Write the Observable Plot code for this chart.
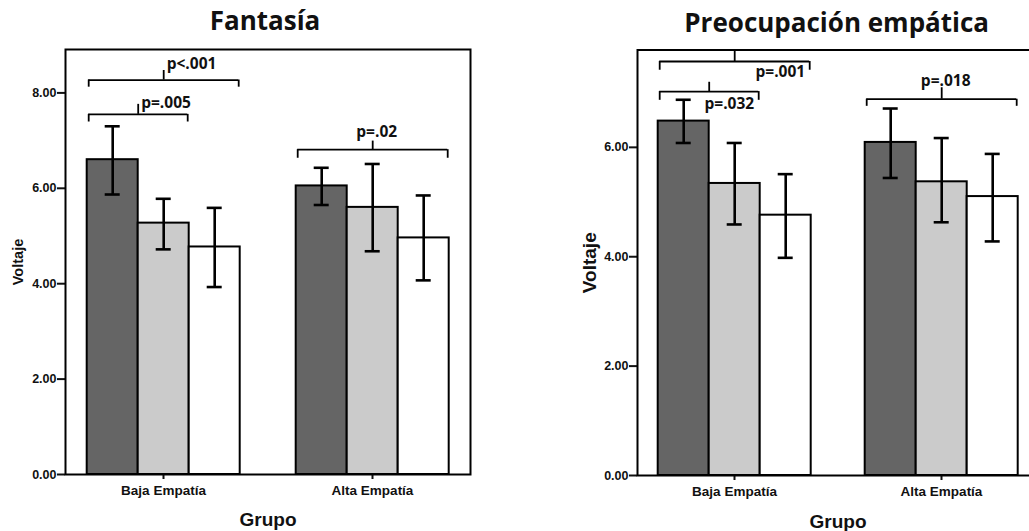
<!DOCTYPE html>
<html>
<head>
<meta charset="utf-8">
<script src="https://cdn.jsdelivr.net/npm/d3@7"></script>
<script src="https://cdn.jsdelivr.net/npm/@observablehq/plot@0.6"></script>
<style>
html, body { margin: 0; padding: 0; background: #fff; overflow: hidden; }
#root { position: relative; width: 1029px; height: 531px; overflow: hidden; background: #fff; }
.title { position: absolute; font-family: "Open Sans", sans-serif; font-weight: 700; font-size: 26px; line-height: 26px; white-space: nowrap; transform: translateX(-50%); color: #111; }
.panel { position: absolute; top: 0; }
.panel svg { max-width: none !important; background: transparent !important; overflow: visible; }
.panel g[aria-label="pval"] text { letter-spacing: 0.8px; }
</style>
</head>
<body>
<div id="root"></div>
<script>
// ---------- data ----------
const groups = ["Baja Empatía", "Alta Empatía"];
const series = ["Condición 1", "Condición 2", "Condición 3"];
const seriesColors = ["#656565", "#cbcbcb", "#ffffff"];

// Fantasía
const fantasiaMean = [[6.60, 5.27, 4.77], [6.05, 5.60, 4.96]];
const fantasiaLow  = [[5.87, 4.72, 3.93], [5.65, 4.68, 4.07]];
const fantasiaHigh = [[7.30, 5.78, 5.59], [6.43, 6.51, 5.85]];
const fantasiaTicks = [0, 2, 4, 6, 8];

// Preocupación empática
const preocMean = [[6.48, 5.34, 4.76], [6.09, 5.37, 5.10]];
const preocLow  = [[6.08, 4.59, 3.98], [5.44, 4.63, 4.28]];
const preocHigh = [[6.87, 6.08, 5.51], [6.71, 6.17, 5.88]];
const preocTicks = [0, 2, 4, 6];

// significance brackets — Fantasía
const fantasiaBrGroup  = ["Baja Empatía", "Baja Empatía", "Alta Empatía"];
const fantasiaBrFrom   = [0, 0, 0];
const fantasiaBrTo     = [2, 1, 2];
const fantasiaBrY      = [8.27, 7.55, 6.81];
const fantasiaBrDrop   = [8.12, 7.39, 6.63];
const fantasiaBrTop    = [8.47, 7.76, 6.99];
const fantasiaBrLabel  = ["p<.001", "p=.005", "p=.02"];
const fantasiaBrLabelY = [8.50, 7.69, 7.07];
const fantasiaBrAnchor = ["start", "start", "middle"];

// significance brackets — Preocupación empática
const preocBrGroup  = ["Baja Empatía", "Baja Empatía", "Alta Empatía"];
const preocBrFrom   = [0, 0, 0];
const preocBrTo     = [2, 1, 2];
const preocBrY      = [7.57, 7.02, 6.88];
const preocBrDrop   = [7.41, 6.86, 6.75];
const preocBrTop    = [7.78, 7.19, 7.09];
const preocBrLabel  = ["p=.001", "p=.032", "p=.018"];
const preocBrLabelY = [7.28, 6.70, 7.13];
const preocBrAnchor = ["end", "end", "middle"];

// ---------- helpers ----------
function table(mean, low, high) {
  const rows = [];
  groups.forEach((g, gi) => series.forEach((s, si) =>
    rows.push({group: g, series: s, mean: mean[gi][si], lo: low[gi][si], hi: high[gi][si]})));
  return rows;
}
function bracketRows(grp, from, to, y, drop, top, label, labelY, anchor) {
  return grp.map((g, i) => ({group: g, from: from[i], to: to[i], y: y[i], drop: drop[i], top: top[i],
    label: label[i], labelY: labelY[i], anchor: anchor[i]}));
}

const AX_FONT = "'Liberation Sans', Arial, sans-serif";
const P_FONT = "'Open Sans', sans-serif";

function spec(cfg, bw) {
  const data = cfg.data;
  const marks = [
    Plot.barY(data, {fx: "group", x: "series", y: "mean", fill: "series", stroke: "#000", strokeWidth: 2}),
    Plot.ruleX(data, {fx: "group", x: "series", y1: "lo", y2: "hi", stroke: "#000", strokeWidth: 2.6}),
    Plot.tickY(data, {fx: "group", x: "series", y: "lo", inset: 18, stroke: "#000", strokeWidth: 2.6}),
    Plot.tickY(data, {fx: "group", x: "series", y: "hi", inset: 18, stroke: "#000", strokeWidth: 2.6}),
    Plot.axisY({ticks: cfg.ticks, tickFormat: ".2f", tickSize: 8, tickPadding: 1, strokeWidth: 2,
      fontSize: 12.5, fontWeight: "bold", fontFamily: AX_FONT, label: null}),
    Plot.axisFx({anchor: "bottom", tickSize: 5, tickPadding: 6, strokeWidth: 2,
      fontSize: 13.5, fontWeight: "bold", fontFamily: AX_FONT, label: null}),
    Plot.frame({facet: "super", stroke: "#000", strokeWidth: 2}),
    Plot.text(["Voltaje"], {facet: "super", text: d => d, frameAnchor: "left", dx: cfg.yLabelDx, rotate: -90,
      textAnchor: "middle", lineAnchor: "middle",
      fontSize: cfg.yLabelSize, fontWeight: "bold", fontFamily: AX_FONT}),
    Plot.text(["Grupo"], {facet: "super", text: d => d, frameAnchor: "bottom", dy: cfg.xLabelDy,
      textAnchor: "middle", lineAnchor: "middle",
      fontSize: 19, fontWeight: "bold", fontFamily: AX_FONT})
  ];
  for (const b of cfg.brackets) {
    const span = b.to - b.from;
    const d = [b];
    marks.push(
      Plot.ruleY(d, {fx: "group", x1: r => series[r.from], x2: r => series[r.to], y: "y",
        insetLeft: 1.5, insetRight: 1.5, stroke: "#000", strokeWidth: 1.8}),
      Plot.ruleX(d, {fx: "group", x: r => series[r.from], y1: "y", y2: "drop", dx: -bw / 2 + 1.5,
        stroke: "#000", strokeWidth: 1.8}),
      Plot.ruleX(d, {fx: "group", x: r => series[r.to], y1: "y", y2: "drop", dx: bw / 2 - 1.5,
        stroke: "#000", strokeWidth: 1.8}),
      Plot.ruleX(d, {fx: "group", x: r => series[r.from], y1: "y", y2: "top", dx: span * bw / 2,
        stroke: "#000", strokeWidth: 1.8})
    );
    let tx, tdx;
    if (b.anchor === "end") { tx = r => series[r.to]; tdx = bw / 2 - 6; }
    else if (b.anchor === "start") { tx = r => series[r.from]; tdx = span * bw / 2 + 3; }
    else { tx = r => series[r.from]; tdx = span * bw / 2 + 4; }
    marks.push(Plot.text(d, {fx: "group", x: tx, y: "labelY", text: "label", dx: tdx, textAnchor: b.anchor,
      lineAnchor: "bottom", fontSize: 15.5, fontWeight: "bold", fontFamily: P_FONT, fill: "#111", ariaLabel: "pval"}));
  }
  return {
    width: cfg.width, height: cfg.height,
    marginLeft: cfg.marginLeft, marginRight: cfg.marginRight,
    marginTop: cfg.marginTop, marginBottom: cfg.marginBottom,
    style: {fontFamily: AX_FONT, color: "#111", background: "transparent"},
    fx: {domain: groups, paddingInner: 0.064, paddingOuter: 0},
    x: {domain: series, paddingInner: 0, paddingOuter: 0.4, axis: null},
    y: {domain: [0, cfg.yMax]},
    color: {domain: series, range: seriesColors},
    marks
  };
}

function build(cfg) {
  let bw = cfg.bwGuess;
  let p = Plot.plot(spec(cfg, bw));
  try {
    const s = p.scale("x");
    if (s && s.bandwidth) { bw = s.bandwidth; p = Plot.plot(spec(cfg, bw)); }
  } catch (e) {}
  return p;
}

const root = document.getElementById("root");

function addPanel(cfg, left, title, titleX, titleTop) {
  const div = document.createElement("div");
  div.className = "panel";
  div.style.left = left + "px";
  div.style.width = cfg.width + "px";
  div.appendChild(build(cfg));
  root.appendChild(div);
  const t = document.createElement("div");
  t.className = "title";
  t.textContent = title;
  t.style.left = titleX + "px";
  t.style.top = titleTop + "px";
  root.appendChild(t);
}

addPanel({
  data: table(fantasiaMean, fantasiaLow, fantasiaHigh),
  brackets: bracketRows(fantasiaBrGroup, fantasiaBrFrom, fantasiaBrTo, fantasiaBrY, fantasiaBrDrop, fantasiaBrTop,
    fantasiaBrLabel, fantasiaBrLabelY, fantasiaBrAnchor),
  ticks: fantasiaTicks, yMax: 8.91,
  width: 520, height: 531, marginLeft: 65.3, marginRight: 50, marginTop: 49, marginBottom: 57,
  yLabelDx: -47, yLabelSize: 14.5, xLabelDy: 45.3, bwGuess: 51.5
}, 0, "Fantasía", 265, 7);

addPanel({
  data: table(preocMean, preocLow, preocHigh),
  brackets: bracketRows(preocBrGroup, preocBrFrom, preocBrTo, preocBrY, preocBrDrop, preocBrTop,
    preocBrLabel, preocBrLabelY, preocBrAnchor),
  ticks: preocTicks, yMax: 7.78,
  width: 540, height: 531, marginLeft: 117.3, marginRight: 21.7, marginTop: 49.5, marginBottom: 56,
  yLabelDx: -47.3, yLabelSize: 19, xLabelDy: 46, bwGuess: 51.3
}, 520, "Preocupación empática", 836.7, 8.6);
</script>
</body>
</html>
